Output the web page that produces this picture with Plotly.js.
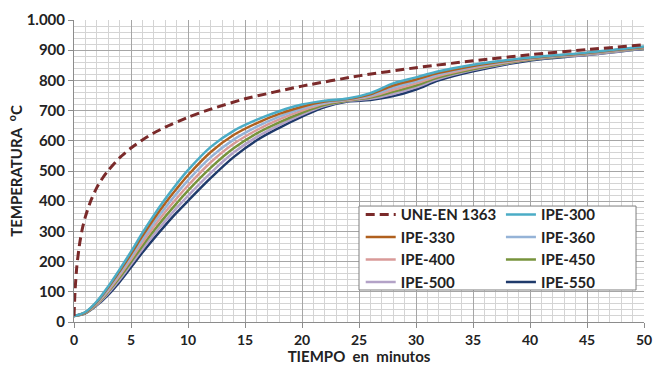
<!DOCTYPE html>
<html>
<head>
<meta charset="utf-8">
<script src="https://cdn.plot.ly/plotly-3.0.1.min.js"></script>
<style>html,body{margin:0;padding:0;background:#fff;}#chart{width:666px;height:365px;}</style>
</head>
<body>
<div id="chart"></div>
<script>
// Standard fire curve (UNE-EN 1363)
const tISO = [0, 0.1, 0.25, 0.5, 0.75, 1, 1.5, 2, 2.5, 3, 4, 5, 6, 7, 8, 10, 12, 15, 20, 25, 30, 35, 40, 45, 50];
const vISO = [20, 108, 185, 261, 312, 349, 404, 445, 476, 502, 544, 576, 603, 626, 645, 678, 705, 739, 781, 815, 842, 865, 885, 902, 918];

// Steel sections
const tIPE = [0, 1, 2, 3, 4, 5, 6, 7, 8, 9, 10, 12, 14, 16, 18, 20, 22, 24, 26, 28, 30, 32, 35, 40, 45, 50];
const ipe300 = [20, 33, 68, 118, 174, 233, 295, 353, 407, 457, 503, 580, 633, 669, 698, 720, 733, 740, 758, 790, 810, 830, 852, 876, 892, 912];
const ipe330 = [20, 32, 66, 114, 168, 225, 285, 341, 393, 441, 486, 563, 619, 658, 689, 713, 730, 738, 754, 783, 803, 825, 848, 874, 891, 911];
const ipe360 = [20, 32, 64, 109, 161, 216, 274, 328, 378, 425, 469, 546, 604, 646, 680, 707, 726, 737, 750, 776, 797, 820, 845, 873, 889, 910];
const ipe400 = [20, 31, 61, 104, 154, 208, 263, 315, 364, 409, 452, 529, 590, 635, 671, 700, 723, 735, 747, 769, 790, 815, 841, 871, 888, 909];
const ipe450 = [20, 30, 59, 100, 147, 199, 252, 302, 349, 393, 435, 511, 575, 624, 661, 693, 719, 733, 743, 762, 783, 810, 837, 869, 887, 907];
const ipe500 = [20, 30, 57, 95, 140, 190, 241, 289, 334, 378, 418, 494, 561, 612, 652, 687, 716, 732, 739, 755, 777, 805, 834, 868, 885, 906];
const ipe550 = [20, 29, 55, 90, 133, 181, 230, 276, 320, 362, 401, 477, 546, 601, 643, 680, 712, 730, 735, 748, 770, 800, 830, 866, 884, 905];

const names = ['UNE-EN 1363', 'IPE-300', 'IPE-330', 'IPE-360', 'IPE-400', 'IPE-450', 'IPE-500', 'IPE-550'];
const colors = ['#7a2a2a', '#4bacc6', '#b0601e', '#95b3d7', '#d99a98', '#77933c', '#b3a2c7', '#1f3a6b'];

const FONT = 'Lato, "Open Sans", Arial, sans-serif';

const steel = [ipe300, ipe330, ipe360, ipe400, ipe450, ipe500, ipe550];
const legendOf = ['legend', 'legend2', 'legend', 'legend2', 'legend', 'legend2', 'legend', 'legend2'];

const traces = [];
for (let i = steel.length - 1; i >= 0; i--) {
  traces.push({
    x: tIPE, y: steel[i], type: 'scatter', mode: 'lines',
    name: names[i + 1], legend: legendOf[i + 1],
    line: {color: colors[i + 1], width: 2.5, shape: 'spline', smoothing: 1},
    hoverinfo: 'skip'
  });
}
traces.push({
  x: tISO, y: vISO, type: 'scatter', mode: 'lines', name: names[0], legend: 'legend',
  line: {color: colors[0], width: 3, dash: '9px,5px', shape: 'spline', smoothing: 0.6},
  hoverinfo: 'skip'
});

const order = {'UNE-EN 1363': 1, 'IPE-300': 1, 'IPE-330': 2, 'IPE-360': 2, 'IPE-400': 3, 'IPE-450': 3, 'IPE-500': 4, 'IPE-550': 4};
traces.forEach(t => { t.legendrank = order[t.name]; });

const legendCommon = {
  font: {family: FONT, size: 15, color: '#222', weight: 'bold'},
  bgcolor: 'rgba(0,0,0,0)', borderwidth: 0,
  xanchor: 'left', yanchor: 'top', tracegroupgap: 0, itemwidth: 30
};

const layout = {
  width: 666, height: 365,
  margin: {l: 74, r: 22, t: 20, b: 43},
  paper_bgcolor: '#fff', plot_bgcolor: '#fff',
  separators: ',.',
  showlegend: true,
  font: {family: FONT, size: 14, color: '#222'},
  xaxis: {
    range: [0, 50], dtick: 5, tick0: 0,
    showgrid: true, gridcolor: '#a6a6a6', gridwidth: 1,
    minor: {dtick: 1, showgrid: true, gridcolor: '#d4d4d4', gridwidth: 1},
    showline: true, linecolor: '#8c8c8c', linewidth: 1,
    ticks: 'outside', ticklen: 5, tickcolor: '#8c8c8c',
    zeroline: false,
    tickfont: {family: FONT, size: 14, color: '#222', weight: 'bold'},
    title: {text: 'TIEMPO  en  minutos', font: {family: FONT, size: 15, color: '#222', weight: 'bold'}, standoff: 3}
  },
  yaxis: {
    range: [0, 1000], dtick: 100, tick0: 0,
    separatethousands: true,
    showgrid: true, gridcolor: '#a6a6a6', gridwidth: 1,
    minor: {dtick: 20, showgrid: true, gridcolor: '#d4d4d4', gridwidth: 1},
    showline: true, linecolor: '#8c8c8c', linewidth: 1,
    ticks: 'outside', ticklen: 5, tickcolor: '#8c8c8c',
    zeroline: false,
    tickfont: {family: FONT, size: 15, color: '#222', weight: 'bold'},
    title: {text: 'TEMPERATURA  <sup>o</sup>C', font: {family: FONT, size: 15, color: '#222', weight: 'bold'}, standoff: 0}
  },
  legend: Object.assign({}, legendCommon, {x: 0.503, y: 0.41, traceorder: 'normal'}),
  legend2: Object.assign({}, legendCommon, {x: 0.749, y: 0.41, traceorder: 'normal'}),
  shapes: [{
    type: 'rect', xref: 'paper', yref: 'paper',
    x0: 0.5, x1: 0.986, y0: 0.106, y1: 0.384,
    fillcolor: '#ffffff', line: {color: '#7f7f7f', width: 1}, layer: 'above'
  }]
};

Plotly.newPlot('chart', traces, layout, {staticPlot: true, displayModeBar: false});
</script>
</body>
</html>
